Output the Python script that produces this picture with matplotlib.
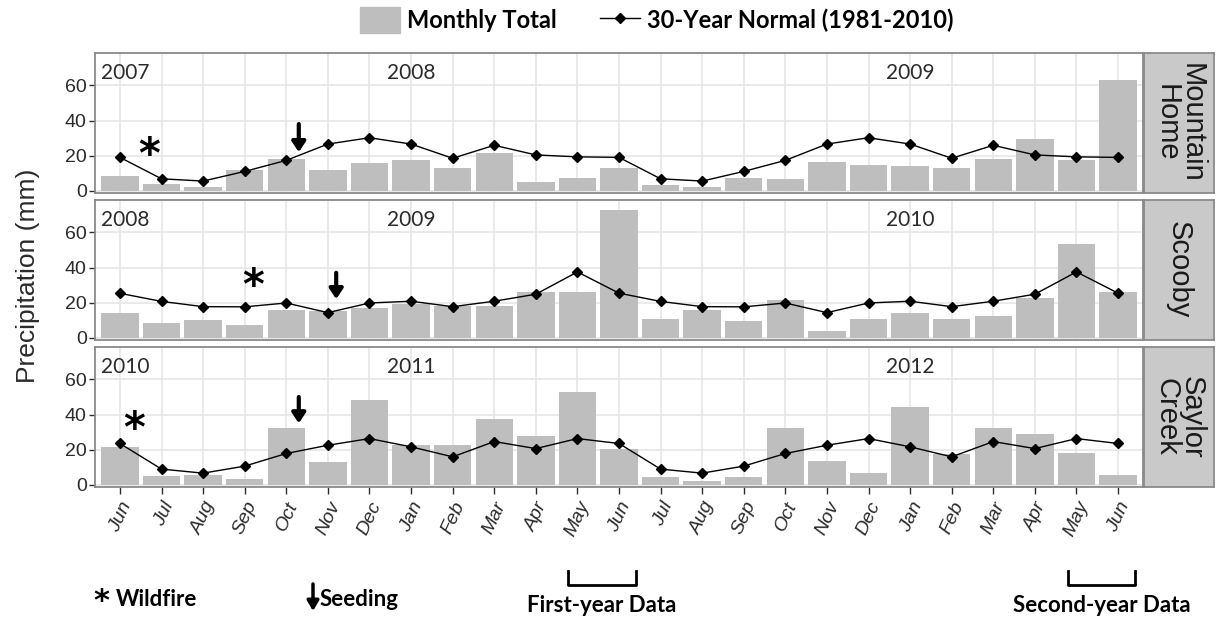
import matplotlib.pyplot as plt
import matplotlib.patches as mpatches
from matplotlib.lines import Line2D
import numpy as np

plt.rcParams['font.family'] = ['Liberation Sans', 'DejaVu Sans']

# --- data ---
months = ['Jun', 'Jul', 'Aug', 'Sep', 'Oct', 'Nov', 'Dec', 'Jan', 'Feb', 'Mar', 'Apr', 'May', 'Jun',
          'Jul', 'Aug', 'Sep', 'Oct', 'Nov', 'Dec', 'Jan', 'Feb', 'Mar', 'Apr', 'May', 'Jun']
sites = ['Mountain\nHome', 'Scooby', 'Saylor\nCreek']
year_labels = [['2007', '2008', '2009'],
               ['2008', '2009', '2010'],
               ['2010', '2011', '2012']]

mh_total = [8.5, 4, 2, 12, 18, 12, 15.7, 17.4, 13, 21.3, 4.7, 7.5, 13,
            3, 2, 7.5, 6.4, 16.6, 14.8, 14, 13, 18.3, 29.5, 17.4, 63.2]
mh_normal = [19, 6.8, 5.5, 11, 17.3, 26.6, 30.2, 26.6, 18.5, 25.9, 20.4, 19.3, 19,
             6.8, 5.5, 11, 17.3, 26.6, 30.2, 26.6, 18.5, 25.9, 20.4, 19.3, 19]

sc_total = [14.1, 8.6, 10.3, 7.4, 16, 15.2, 17, 19, 18, 17.9, 26.3, 26.3, 73,
            10.5, 15.8, 9.5, 21.5, 3.8, 10.5, 14.1, 10.5, 12.2, 22.5, 53.3, 26.3]
sc_normal = [25.3, 20.7, 17.7, 17.6, 19.8, 14.3, 19.8, 20.8, 17.7, 20.8, 24.8, 37.5, 25.4,
             20.7, 17.7, 17.6, 19.8, 14.3, 19.8, 20.8, 17.7, 20.8, 24.8, 37.5, 25.4]

sy_total = [21.6, 5.1, 5.7, 3.2, 32.6, 13.1, 48.3, 22.5, 22.5, 37.3, 27.8, 53, 20.6,
            4.2, 2.3, 4.2, 32.6, 13.3, 6.6, 44.5, 17.4, 32.6, 29, 17.8, 5.7]
sy_normal = [23.5, 8.9, 6.6, 10.6, 17.8, 22.5, 26.3, 21.6, 15.9, 24.6, 20.6, 26.3, 23.5,
             8.9, 6.6, 10.6, 17.8, 22.5, 26.3, 21.6, 15.9, 24.6, 20.6, 26.3, 23.5]

totals = [mh_total, sc_total, sy_total]
normals = [mh_normal, sc_normal, sy_normal]

# --- styling ---
BAR = '#bebebe'
GRID = '#e6e6e6'
BORDER = '#8a8a8a'
TXT = '#2b2b2b'
KEYFONT = {'family': 'Lato', 'fontweight': 'bold', 'fontsize': 16}

fig = plt.figure(figsize=(12.16, 6.18), dpi=100)
x = np.arange(len(months))

left, width = 95 / 1216, 1048 / 1216
strip_w = 70 / 1216
tops = [53, 200, 347]
ph = 140 / 618

# where the wildfire / seeding marks sit in each panel (x index, y value)
fire_pos = [(0.7, 20), (3.2, 29), (0.35, 31)]
seed_pos = [(4.3, 22, 38), (5.2, 22, 37), (4.3, 35, 50)]

for i in range(3):
    bottom = 1 - (tops[i] + 140) / 618
    ax = fig.add_axes([left, bottom, width, ph])
    ax.bar(x, totals[i], width=0.9, color=BAR, zorder=2)
    ax.plot(x, normals[i], color='black', lw=1.0, marker='D', ms=5, zorder=3)

    ax.set_xlim(-0.6, len(months) - 0.4)
    ax.set_ylim(-1.3, 78.5)
    ax.set_yticks([0, 20, 40, 60])
    ax.set_xticks(x)
    ax.grid(True, color=GRID, lw=1.2, zorder=0)
    ax.set_axisbelow(True)
    for s in ax.spines.values():
        s.set_color(BORDER)
        s.set_linewidth(1.3)
    ax.tick_params(axis='y', labelsize=14, colors=TXT, length=4, width=1, pad=2)
    ax.tick_params(axis='x', length=5, width=1, colors=TXT)
    if i < 2:
        ax.tick_params(axis='x', labelbottom=False, length=0)
    else:
        ax.set_xticklabels(months, rotation=65, ha='right', fontsize=14,
                           rotation_mode='anchor', style='italic')

    # year labels
    ax.text(-0.45, 67, year_labels[i][0], fontsize=15, family='Lato', color=TXT,
            ha='left', va='center')
    ax.text(7, 67, year_labels[i][1], fontsize=15, family='Lato', color=TXT,
            ha='center', va='center')
    ax.text(19, 67, year_labels[i][2], fontsize=15, family='Lato', color=TXT,
            ha='center', va='center')

    # wildfire and seeding marks
    fx, fy = fire_pos[i]
    ax.text(fx, fy, '*', fontsize=30, fontweight='bold', ha='center', va='center',
            family='DejaVu Sans', color='black', zorder=5)
    sx, sy0, sy1 = seed_pos[i]
    ax.annotate('', xy=(sx, sy0), xytext=(sx, sy1),
                arrowprops=dict(arrowstyle='-|>,head_width=0.4,head_length=0.6',
                                color='black', lw=3, shrinkA=0, shrinkB=0), zorder=5)

    # facet strip
    sax = fig.add_axes([left + width + 1 / 1216, bottom, strip_w, ph])
    sax.set_facecolor('#c9c9c9')
    sax.set_xticks([])
    sax.set_yticks([])
    for s in sax.spines.values():
        s.set_color(BORDER)
        s.set_linewidth(1.3)
    sax.text(0.5, 0.5, sites[i], rotation=-90, ha='center', va='center',
             fontsize=21, color='#1a1a1a', linespacing=0.85, transform=sax.transAxes)

fig.text(28 / 1216, 1 - 276 / 618, 'Precipitation (mm)', rotation=90, fontsize=19,
         ha='center', va='center', color=TXT)

# legend on top
handles = [mpatches.Patch(color=BAR),
           Line2D([0], [0], color='black', lw=1.0, marker='D', ms=5)]
fig.legend(handles, ['Monthly Total', '30-Year Normal (1981-2010)'],
           loc='center', bbox_to_anchor=(0.54, 1 - 20 / 618), ncol=2, frameon=False,
           prop={'family': 'Lato', 'weight': 'bold', 'size': 17},
           handlelength=1.7, handleheight=1.3, columnspacing=1.8, handletextpad=0.3)

# bottom key
fig.text(101 / 1216, 1 - 602 / 618, '*', fontsize=22, fontweight='bold', ha='center',
         va='center', family='DejaVu Sans')
fig.text(116 / 1216, 1 - 600 / 618, 'Wildfire', ha='left', va='center', **KEYFONT)
fig.add_artist(mpatches.FancyArrowPatch((313 / 1216, 1 - 584 / 618), (313 / 1216, 1 - 611 / 618),
                                        transform=fig.transFigure,
                                        arrowstyle='-|>,head_width=3.5,head_length=6',
                                        color='black', lw=2.5, shrinkA=0, shrinkB=0))
fig.text(320 / 1216, 1 - 600 / 618, 'Seeding', ha='left', va='center', **KEYFONT)

for x0, x1, label in [(568, 636, 'First-year Data'), (1068, 1135, 'Second-year Data')]:
    xs = [x0 / 1216, x0 / 1216, x1 / 1216, x1 / 1216]
    ys = [1 - 571 / 618, 1 - 585 / 618, 1 - 585 / 618, 1 - 571 / 618]
    fig.add_artist(Line2D(xs, ys, color='black', lw=2, transform=fig.transFigure))
    fig.text((x0 + x1) / 2 / 1216, 1 - 606 / 618, label, ha='center', va='center',
             **KEYFONT)

fig.savefig('out.png', dpi=100)
